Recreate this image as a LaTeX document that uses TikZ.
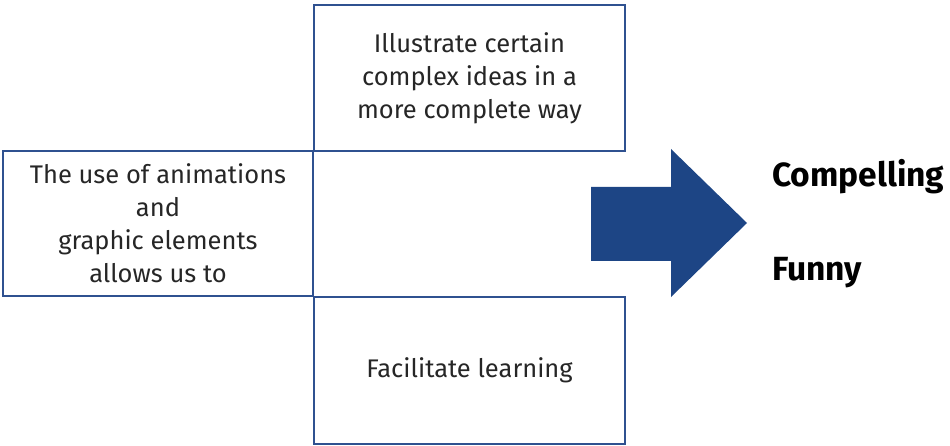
\documentclass[tikz,border=0pt]{standalone}
\usepackage{fontspec}
\setmainfont{Fira Sans}
\definecolor{frameblue}{HTML}{2F5190}
\definecolor{arrowblue}{HTML}{1D4585}
\begin{document}
\begin{tikzpicture}[x=1pt,y=-1pt,
  panel/.style={draw=frameblue, line width=1.6pt, align=center, inner sep=0pt,
    font=\fontsize{25.5}{33}\selectfont, text=black!85},
  result/.style={anchor=base west, inner sep=0pt,
    font=\fontsize{33.5}{38}\selectfont\bfseries, text=black}]
  \useasboundingbox (0,0) rectangle (950,446);
  % three panels around the centre
  \node[panel, minimum width=311pt, minimum height=146pt] (ideas) at (469.5,78)
    {Illustrate certain\\complex ideas in a\\more complete way};
  \node[panel, minimum width=310pt, minimum height=145pt] (intro) at (158,223.5)
    {The use of animations\\and\\graphic elements\\allows us to};
  \node[panel, minimum width=311pt, minimum height=147pt] (learn) at (469.5,370.5)
    {Facilitate learning};
  % block arrow
  \fill[arrowblue] (591,187) -- (671,187) -- (671,149) -- (747,223)
    -- (671,297) -- (671,261) -- (591,261) -- cycle;
  % outcomes
  \node[result] (compel) at (772,187) {Compelling};
  \node[result] (funny) at (772,280) {Funny};
\end{tikzpicture}
\end{document}
